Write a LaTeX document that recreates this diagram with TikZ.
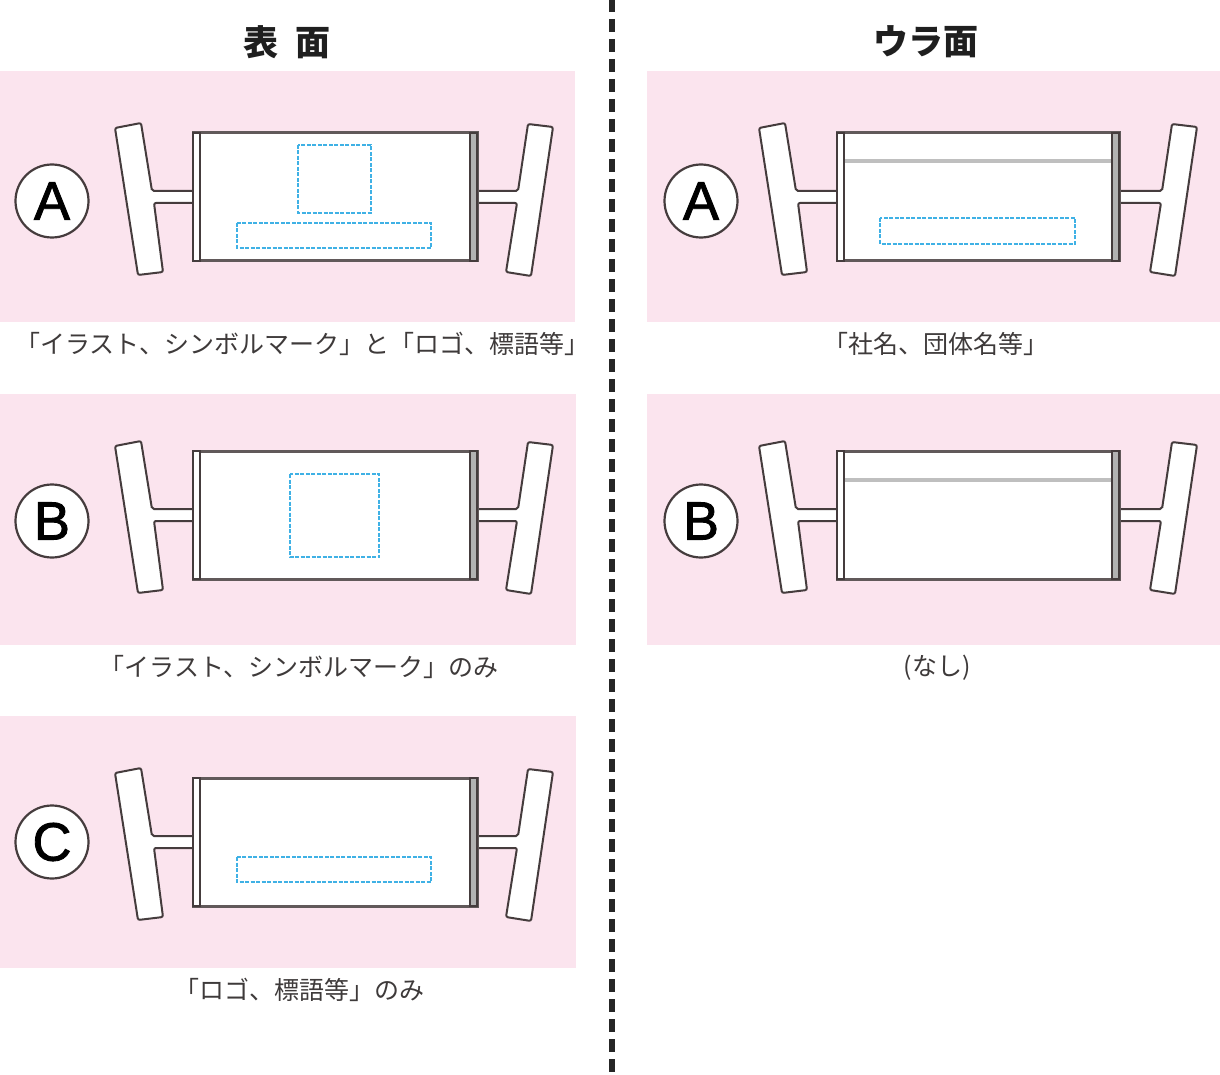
\documentclass[tikz,border=0pt]{standalone}
\usepackage{fontspec}
\setmainfont{Noto Sans CJK JP}
\newfontfamily\letterfont[FakeBold=1.6]{Liberation Sans}
\usetikzlibrary{positioning}
\definecolor{panelpink}{HTML}{FBE4EE}
\definecolor{standline}{HTML}{453C3D}
\definecolor{dashblue}{HTML}{3FB1E5}
\definecolor{captiongray}{HTML}{3E3A3A}
\tikzset{
	panel/.style={
		rectangle,
		fill=panelpink,
		draw=none,
		inner sep=0pt,
		minimum width=#1,
		minimum height=251.5pt},
	badge/.style={
		circle,
		fill=white,
		draw=standline, line width=2.2pt,
		inner sep=0pt,
		minimum size=73pt,
		font=\letterfont\fontsize{54}{54}\selectfont},
	heading/.style={
		text=black!88,
		inner sep=0pt,
		font=\bfseries\fontsize{35}{35}\selectfont},
	caption/.style={
		text=captiongray,
		inner sep=0pt,
		font=\fontsize{25}{25}\selectfont},
	logozone/.style={
		draw=dashblue, line width=2.5pt,
		dash pattern=on 4pt off 1.5pt},
	foot/.style={
		fill=white,
		draw=standline, line width=2pt,
		rounded corners=2pt},
	topband/.style={
		black!25, line width=3.5pt},
	divider/.style={
		draw=black!85, line width=6pt,
		dash pattern=on 13pt off 7pt},
	pics/stand/.style={
		code={
			% left foot and stem
			\draw[foot] (-78,-5) -- (-52,-10) -- (-41,58) -- (2,58) -- (2,70) -- (-39,70)
				-- (-30,139) -- (-55,142) -- cycle;
			% right foot and stem
			\draw[foot] (335,-9) -- (360,-6) -- (338,143) -- (313,139) -- (324,70) -- (#1-2,70)
				-- (#1-2,58) -- (325,58) -- cycle;
			% banner
			\draw[fill=white, draw=standline!85, line width=3pt] (0,0) rectangle (#1,128);
			\draw[fill=white, draw=standline, line width=2pt] (0,0) rectangle (7,128);
			\draw[fill=black!30, draw=standline, line width=2pt] (#1-7,0) rectangle (#1,128);
		}},
}

\begin{document}
\begin{tikzpicture}[x=1pt,y=-1pt]
	\useasboundingbox (0,0) rectangle (1220,1075);

	% panels
	\node[panel=575pt] (frontA) at (287.5,196.5) {};
	\node[panel=576pt] (frontB) at (288,519.5) {};
	\node[panel=576pt] (frontC) at (288,842) {};
	\node[panel=573pt] (backA) at (933.5,196.5) {};
	\node[panel=573pt] (backB) at (933.5,519.5) {};

	% divider
	\coordinate (divtop) at (612,-1);
	\coordinate (divbot) at (612,1075);
	\draw[divider] (divtop) -- (divbot);

	% headings
	\node[heading] (fronthead) at (287,42) {表\hspace{18pt}面};
	\node[heading] (backhead) at (926,42) {ウラ面};

	% stands
	\pic at (193,133) {stand=284};
	\pic at (193,451) {stand=284};
	\pic at (193,778) {stand=284};
	\pic at (837,133) {stand=282};
	\pic at (837,451) {stand=282};

	% logo zones
	\draw[logozone] (298,145) rectangle (371,213);
	\draw[logozone] (237,223) rectangle (431,248);
	\draw[logozone] (290,474) rectangle (379,557);
	\draw[logozone] (237,857) rectangle (431,882);
	\draw[logozone] (880,218) rectangle (1075,244);

	% top bands on the back
	\draw[topband] (845,161) -- (1111,161);
	\draw[topband] (845,480) -- (1111,480);

	% badges
	\node[badge] (markfrontA) at (52,201) {A};
	\node[badge] (markfrontB) at (52,521) {B};
	\node[badge] (markfrontC) at (52,842) {C};
	\node[badge] (markbackA) at (701,201) {A};
	\node[badge] (markbackB) at (701,521) {B};

	% captions
	\node[caption] (capfrontA) at (302,344) {「イラスト、シンボルマーク」と「ロゴ、標語等」};
	\node[caption] (capfrontB) at (299,667) {「イラスト、シンボルマーク」のみ};
	\node[caption] (capfrontC) at (299,990) {「ロゴ、標語等」のみ};
	\node[caption] (capbackA) at (936,344) {「社名、団体名等」};
	\node[caption] (capbackB) at (937,668) {(なし)};
\end{tikzpicture}
\end{document}
